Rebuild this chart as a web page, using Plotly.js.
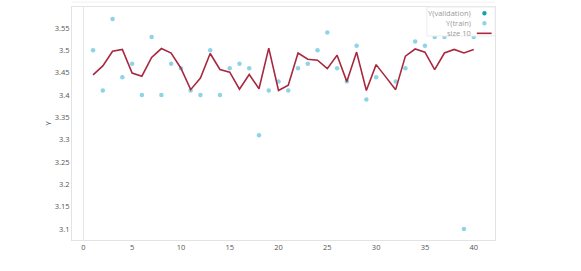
<!DOCTYPE html>
<html>
<head>
<meta charset="utf-8">
<script src="https://cdn.plot.ly/plotly-3.0.1.min.js"></script>
<style>html,body{margin:0;padding:0;background:#fff;}#chart{width:581px;height:271px;}</style>
</head>
<body>
<div id="chart"></div>
<script>
// ---- data ----
const trainX = [1,2,3,4,5,6,7,8,9,10,11,12,13,14,15,16,17,18,19,20,21,22,23,24,25,26,27,28,29,30,32,33,34,35,36,37,39,40];
const trainY = [3.50,3.41,3.57,3.44,3.47,3.40,3.53,3.40,3.47,3.46,3.41,3.40,3.50,3.40,3.46,3.47,3.46,3.31,3.41,3.43,3.41,3.46,3.47,3.50,3.54,3.46,3.43,3.51,3.39,3.44,3.43,3.46,3.52,3.51,3.53,3.53,3.10,3.53];
const validX = [];
const validY = [];
const sizeX = [1,2,3,4,5,6,7,8,9,10,11,12,13,14,15,16,17,18,19,20,21,22,23,24,25,26,27,28,29,30,31,32,33,34,35,36,37,38,39,40];
const sizeY = [3.445,3.465,3.498,3.502,3.449,3.442,3.484,3.504,3.494,3.460,3.412,3.438,3.493,3.457,3.451,3.413,3.446,3.414,3.505,3.410,3.422,3.494,3.480,3.478,3.459,3.489,3.430,3.496,3.410,3.468,3.440,3.412,3.487,3.503,3.496,3.457,3.494,3.502,3.494,3.502];
const xTicks = [0,5,10,15,20,25,30,35,40];
const yTicks = [3.1,3.15,3.2,3.25,3.3,3.35,3.4,3.45,3.5,3.55];
const legendNames = ['Y(validation)','Y(train)','size 10'];

const cTrain = '#8fd3e6', cValid = '#12a0b3', cLine = '#a8283f';

const traces = [
  {x: trainX, y: trainY, mode: 'markers', type: 'scatter', name: legendNames[1],
   marker: {color: cTrain, size: 4.5}, hoverinfo: 'x+y'},
  {x: validX, y: validY, mode: 'markers', type: 'scatter', name: legendNames[0],
   marker: {color: cValid, size: 4.5}},
  {x: sizeX, y: sizeY, mode: 'lines', type: 'scatter', name: legendNames[2],
   line: {color: cLine, width: 1.6}}
];

// custom legend (symbols on the right, right-aligned text)
const lx = 0.948, ly = [0.973, 0.930, 0.887];
const legFont = {family: 'Open Sans, sans-serif', size: 7.5, color: '#9a9a9a'};
const annotations = legendNames.map((t, i) => ({
  text: t, xref: 'paper', yref: 'paper', x: lx, y: ly[i],
  xanchor: 'right', yanchor: 'middle', showarrow: false, font: legFont
}));
const shapes = [
  {type: 'rect', xref: 'paper', yref: 'paper', x0: 0.839, x1: 1, y0: 0.8755, y1: 1,
   fillcolor: '#ffffff', line: {color: '#ececec', width: 1}, layer: 'above'},
  {type: 'circle', xref: 'paper', yref: 'paper', xsizemode: 'pixel', ysizemode: 'pixel',
   xanchor: 0.975, yanchor: ly[0], x0: -2.2, x1: 2.2, y0: -2.2, y1: 2.2,
   fillcolor: cValid, line: {width: 0}, layer: 'above'},
  {type: 'circle', xref: 'paper', yref: 'paper', xsizemode: 'pixel', ysizemode: 'pixel',
   xanchor: 0.975, yanchor: ly[1], x0: -2.2, x1: 2.2, y0: -2.2, y1: 2.2,
   fillcolor: cTrain, line: {width: 0}, layer: 'above'},
  {type: 'line', xref: 'paper', yref: 'paper', x0: 0.957, x1: 0.992, y0: ly[2], y1: ly[2],
   line: {color: cLine, width: 1.6}, layer: 'above'},
  {type: 'line', xref: 'paper', yref: 'paper', x0: 0, x1: 1, y0: 1.021, y1: 1.021,
   line: {color: '#f2f2f2', width: 1}}
];

const tickFont = {family: 'Open Sans, sans-serif', size: 7.5, color: '#555'};
const layout = {
  width: 581, height: 271,
  margin: {l: 72, r: 86, t: 7, b: 31, pad: 0},
  paper_bgcolor: '#fff', plot_bgcolor: '#fff',
  showlegend: false,
  xaxis: {range: [-1.158, 42.18], tickvals: xTicks, ticktext: xTicks.map(String),
          showgrid: false, zeroline: true, zerolinecolor: '#e6e6e6', zerolinewidth: 1,
          showline: true, linecolor: '#e3e3e3', linewidth: 1, mirror: true,
          ticks: '', tickfont: tickFont},
  yaxis: {range: [3.0754, 3.597], tickvals: yTicks, ticktext: yTicks.map(String),
          showgrid: false, zeroline: false,
          showline: true, linecolor: '#e3e3e3', linewidth: 1, mirror: true,
          ticks: '', tickfont: tickFont,
          title: {text: 'Y', font: {family: 'Open Sans, sans-serif', size: 7.5, color: '#555'}, standoff: 2}},
  annotations: annotations,
  shapes: shapes,
  font: {family: 'Open Sans, sans-serif'}
};

Plotly.newPlot('chart', traces, layout, {displayModeBar: false, staticPlot: true});
</script>
</body>
</html>
